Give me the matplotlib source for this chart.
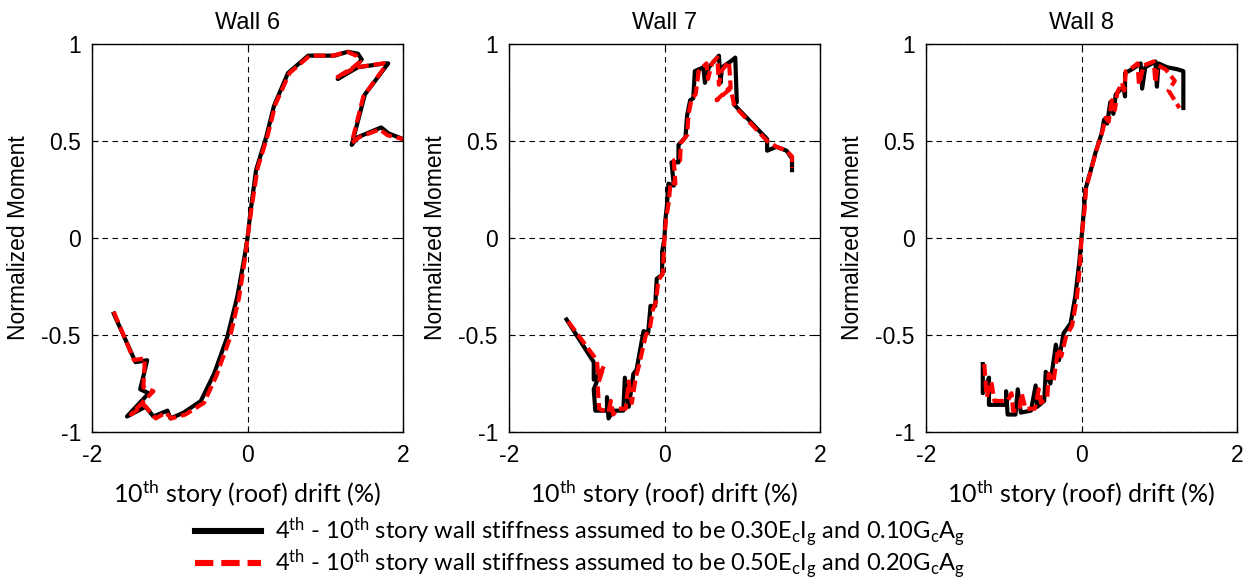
import matplotlib as mpl
import matplotlib.pyplot as plt
from matplotlib.lines import Line2D

mpl.rcParams['mathtext.fontset'] = 'custom'
mpl.rcParams['mathtext.rm'] = 'Lato'
mpl.rcParams['mathtext.it'] = 'Lato:italic'
mpl.rcParams['axes.unicode_minus'] = False

# ---- data (drift %, normalized moment) ----
titles = ['Wall 6', 'Wall 7', 'Wall 8']

w6_black_x = [-1.72, -1.44, -1.29, -1.38, -1.27, -1.55, -1.31, -1.21, -1.03, -0.99, -0.82, -0.60, -0.43,
              -0.26, -0.13, -0.04, 0.0, 0.04, 0.11, 0.24, 0.34, 0.52, 0.78, 1.12, 1.29, 1.42, 1.47, 1.38,
              1.16, 1.42, 1.77, 1.81, 1.51, 1.34, 1.42, 1.72, 1.81, 2.0]
w6_black_y = [-0.39, -0.64, -0.63, -0.78, -0.80, -0.92, -0.87, -0.92, -0.89, -0.93, -0.90, -0.84, -0.70,
              -0.51, -0.30, -0.10, 0.0, 0.14, 0.35, 0.52, 0.68, 0.85, 0.94, 0.94, 0.96, 0.95, 0.92, 0.88,
              0.82, 0.88, 0.90, 0.90, 0.74, 0.48, 0.52, 0.57, 0.54, 0.51]
w6_red_x = [-1.72, -1.46, -1.32, -1.34, -1.21, -1.50, -1.33, -1.18, -1.05, -0.98, -0.80, -0.56, -0.40,
            -0.23, -0.11, -0.03, 0.0, 0.05, 0.13, 0.26, 0.36, 0.54, 0.80, 1.10, 1.28, 1.40, 1.45, 1.36,
            1.16, 1.40, 1.75, 1.78, 1.49, 1.34, 1.44, 1.70, 1.80, 2.0]
w6_red_y = [-0.38, -0.63, -0.62, -0.77, -0.79, -0.91, -0.86, -0.93, -0.90, -0.93, -0.91, -0.85, -0.71,
            -0.52, -0.31, -0.10, 0.0, 0.15, 0.36, 0.53, 0.69, 0.85, 0.94, 0.94, 0.96, 0.94, 0.91, 0.88,
            0.83, 0.88, 0.90, 0.89, 0.73, 0.49, 0.52, 0.56, 0.53, 0.51]

w7_black_x = [-1.26, -0.91, -0.91, -0.83, -0.91, -0.89, -0.74, -0.74, -0.72, -0.66, -0.53, -0.51, -0.46,
              -0.40, -0.36, -0.27, -0.21, -0.18, -0.12, -0.10, -0.03, -0.03, 0.0, 0.01, 0.03, 0.05, 0.12,
              0.09, 0.18, 0.18, 0.27, 0.29, 0.33, 0.37, 0.39, 0.50, 0.52, 0.57, 0.70, 0.72, 0.74, 0.85,
              0.91, 0.93, 0.89, 1.32, 1.32, 1.44, 1.57, 1.64, 1.64]
w7_black_y = [-0.42, -0.64, -0.73, -0.70, -0.78, -0.89, -0.89, -0.82, -0.93, -0.89, -0.89, -0.72, -0.87,
              -0.70, -0.68, -0.48, -0.49, -0.35, -0.35, -0.21, -0.19, -0.07, 0.0, 0.09, 0.16, 0.28, 0.27,
              0.39, 0.39, 0.48, 0.52, 0.63, 0.71, 0.72, 0.86, 0.88, 0.80, 0.88, 0.94, 0.80, 0.88, 0.91,
              0.93, 0.70, 0.69, 0.51, 0.45, 0.47, 0.45, 0.41, 0.35]
w7_red_x = [-1.24, -0.87, -0.85, -0.78, -0.86, -0.84, -0.72, -0.69, -0.66, -0.60, -0.50, -0.46, -0.42,
            -0.37, -0.33, -0.24, -0.19, -0.15, -0.11, -0.08, -0.02, -0.01, 0.0, 0.02, 0.05, 0.08, 0.14,
            0.12, 0.20, 0.21, 0.29, 0.31, 0.35, 0.40, 0.44, 0.54, 0.56, 0.61, 0.68, 0.70, 0.73, 0.83,
            0.85, 0.67, 0.85, 0.90, 1.32, 1.44, 1.57, 1.64, 1.64]
w7_red_y = [-0.43, -0.63, -0.72, -0.66, -0.76, -0.88, -0.90, -0.84, -0.91, -0.88, -0.88, -0.74, -0.85,
            -0.72, -0.66, -0.50, -0.47, -0.37, -0.33, -0.22, -0.18, -0.08, 0.0, 0.10, 0.17, 0.29, 0.28,
            0.40, 0.40, 0.49, 0.53, 0.64, 0.72, 0.74, 0.86, 0.90, 0.82, 0.90, 0.93, 0.79, 0.86, 0.91,
            0.78, 0.71, 0.77, 0.68, 0.50, 0.47, 0.45, 0.42, 0.36]

w8_black_x = [-1.27, -1.27, -1.19, -1.19, -0.97, -0.97, -0.95, -0.85, -0.82, -0.78, -0.65, -0.59, -0.57,
              -0.48, -0.46, -0.40, -0.33, -0.29, -0.23, -0.14, -0.08, -0.03, 0.0, 0.03, 0.05, 0.12, 0.18,
              0.22, 0.26, 0.29, 0.33, 0.37, 0.41, 0.44, 0.54, 0.56, 0.56, 0.65, 0.76, 0.78, 0.82, 0.95,
              0.97, 0.99, 1.10, 1.23, 1.31, 1.31]
w8_black_y = [-0.65, -0.80, -0.72, -0.86, -0.86, -0.79, -0.91, -0.91, -0.78, -0.90, -0.89, -0.76, -0.87,
              -0.84, -0.69, -0.75, -0.55, -0.63, -0.49, -0.44, -0.30, -0.13, 0.0, 0.14, 0.25, 0.35, 0.44,
              0.49, 0.54, 0.61, 0.59, 0.70, 0.64, 0.74, 0.78, 0.73, 0.85, 0.87, 0.90, 0.77, 0.88, 0.91,
              0.78, 0.90, 0.88, 0.87, 0.86, 0.67]
w8_red_x = [-1.25, -1.22, -1.16, -1.12, -0.95, -0.90, -0.88, -0.80, -0.77, -0.72, -0.60, -0.55, -0.52,
            -0.44, -0.42, -0.36, -0.30, -0.26, -0.20, -0.12, -0.06, -0.02, 0.0, 0.04, 0.06, 0.13, 0.19,
            0.23, 0.27, 0.31, 0.35, 0.39, 0.43, 0.46, 0.52, 0.55, 0.57, 0.66, 0.72, 0.74, 0.80, 0.93,
            0.95, 0.98, 1.08, 1.20, 1.12, 1.26]
w8_red_y = [-0.65, -0.82, -0.74, -0.84, -0.84, -0.80, -0.89, -0.89, -0.80, -0.88, -0.88, -0.78, -0.85,
            -0.82, -0.70, -0.74, -0.57, -0.61, -0.51, -0.45, -0.31, -0.14, 0.0, 0.15, 0.26, 0.36, 0.45,
            0.50, 0.55, 0.62, 0.60, 0.71, 0.66, 0.75, 0.80, 0.76, 0.86, 0.88, 0.90, 0.79, 0.89, 0.91,
            0.80, 0.89, 0.87, 0.81, 0.76, 0.67]

black_data = [(w6_black_x, w6_black_y), (w7_black_x, w7_black_y), (w8_black_x, w8_black_y)]
red_data = [(w6_red_x, w6_red_y), (w7_red_x, w7_red_y), (w8_red_x, w8_red_y)]

legend_labels = [r'4$^{\mathrm{th}}$ - 10$^{\mathrm{th}}$ story wall stiffness assumed to be '
                 r'0.30E$_{\mathrm{c}}$I$_{\mathrm{g}}$ and 0.10G$_{\mathrm{c}}$A$_{\mathrm{g}}$',
                 r'4$^{\mathrm{th}}$ - 10$^{\mathrm{th}}$ story wall stiffness assumed to be '
                 r'0.50E$_{\mathrm{c}}$I$_{\mathrm{g}}$ and 0.20G$_{\mathrm{c}}$A$_{\mathrm{g}}$']

fig = plt.figure(figsize=(12.49, 5.8), dpi=100)

lefts = [92, 509, 926]
for i in range(3):
    ax = fig.add_axes((lefts[i] / 1249, 1 - 432 / 580, 311 / 1249, 388 / 580))
    ax.plot(black_data[i][0], black_data[i][1], color='black', lw=3.0)
    ax.plot(red_data[i][0], red_data[i][1], color='red', lw=3.0, dashes=(2.8, 1.2))
    ax.set_xlim(-2, 2)
    ax.set_ylim(-1, 1)
    ax.set_xticks([-2, 0, 2])
    ax.set_yticks([-1, -0.5, 0, 0.5, 1])
    ax.set_yticklabels(['-1', '-0.5', '0', '0.5', '1'])
    ax.grid(True, color='black', ls=(0, (5, 4)), lw=0.8)
    ax.set_axisbelow(True)
    ax.tick_params(direction='in', length=4, top=True, right=True, labelsize=16.5)
    ax.tick_params(axis='x', pad=9)
    ax.tick_params(axis='y', pad=8)
    for lab in ax.get_xticklabels() + ax.get_yticklabels():
        lab.set_family('Liberation Sans')
    for sp in ax.spines.values():
        sp.set_linewidth(1.0)
    ax.set_title(titles[i], fontsize=17, family='Liberation Sans', pad=10.5)
    ax.set_ylabel('Normalized Moment', fontsize=16.5, family='Liberation Sans', labelpad=8)
    ax.set_xlabel(r'10$^{\mathrm{th}}$ story (roof) drift (%)', fontsize=18, family='Lato', labelpad=8)

handles = [Line2D([], [], color='black', lw=4.4),
           Line2D([], [], color='red', lw=4.4, dashes=(3.0, 1.3))]
fig.legend(handles, legend_labels, loc='center left', bbox_to_anchor=(195 / 1249, 1 - 548 / 580),
           frameon=False, prop={'family': 'Lato', 'size': 17}, handlelength=2.8, handletextpad=0.6,
           labelspacing=-0.05, borderaxespad=0, borderpad=0)

fig.savefig('out.png', dpi=100)
